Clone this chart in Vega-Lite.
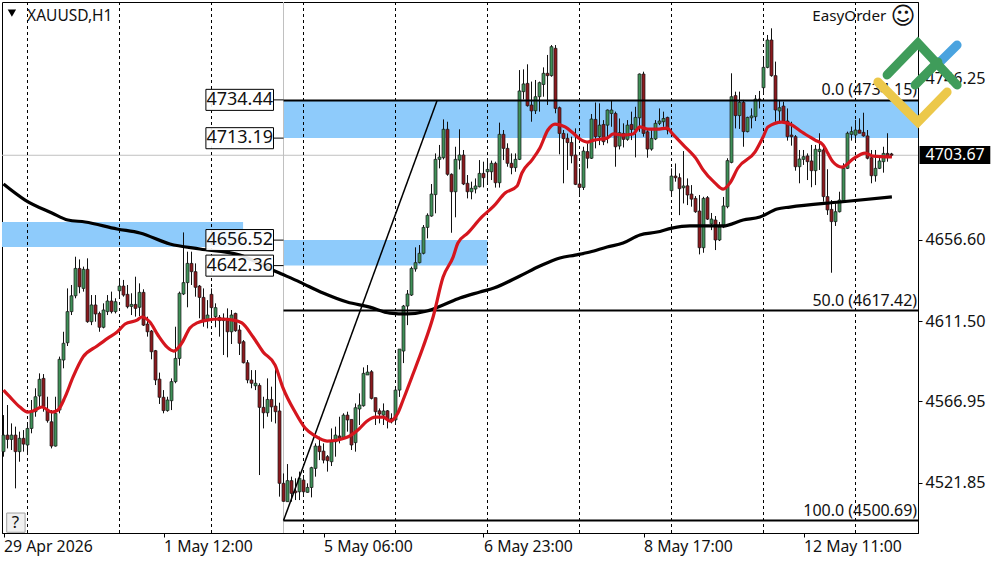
{"$schema":"https://vega.github.io/schema/vega-lite/v6.json","width":916,"height":531,"autosize":{"type":"none"},"padding":{"left":2,"top":2,"right":82,"bottom":29},"background":"white","view":{"stroke":"black","strokeWidth":1,"fill":"white"},
"datasets":{
"zones":[{"x":-0.375,"x2":59.9,"y":4666.6,"y2":4652.7},{"x":70,"x2":228.625,"y":4734.44,"y2":4713.19},{"x":70,"x2":121,"y":4656.52,"y2":4642.36}],
"grid":[{"x":6},{"x":29},{"x":52},{"x":75},{"x":98},{"x":121},{"x":144},{"x":167},{"x":190},{"x":213}],
"sep":[{"x":70}],
"bid":[{"x":-0.375,"x2":228.625,"y":4703.67}],
"fib":[{"x":70,"x2":228.625,"y":4734.15},{"x":70,"x2":228.625,"y":4617.42},{"x":70,"x2":228.625,"y":4500.69}],
"trend":[{"x":70,"y":4500.69},{"x":108.4,"y":4734.15}],
"candles":[
{"x":0,"o":4539.0,"h":4559.3,"l":4536.2,"c":4548.2},{"x":1,"o":4548.2,"h":4564.9,"l":4540.8,"c":4545.8},{"x":2,"o":4545.8,"h":4554.7,"l":4539.9,"c":4548.2},{"x":3,"o":4548.2,"h":4552.9,"l":4518.6,"c":4539.0},{"x":4,"o":4539.0,"h":4550.1,"l":4533.4,"c":4546.4},{"x":5,"o":4546.4,"h":4551.0,"l":4539.0,"c":4543.2},{"x":6,"o":4542.7,"h":4553.8,"l":4537.1,"c":4551.9},{"x":7,"o":4551.9,"h":4567.7,"l":4549.2,"c":4561.2},{"x":8,"o":4561.2,"h":4574.2,"l":4558.4,"c":4569.5},{"x":9,"o":4569.9,"h":4582.5,"l":4564.0,"c":4579.2},
{"x":10,"o":4579.7,"h":4582.1,"l":4561.2,"c":4564.0},{"x":11,"o":4562.1,"h":4569.5,"l":4555.1,"c":4556.2},{"x":12,"o":4555.6,"h":4562.1,"l":4540.8,"c":4542.1},{"x":13,"o":4542.1,"h":4569.5,"l":4541.8,"c":4560.3},{"x":14,"o":4562.1,"h":4591.8,"l":4560.3,"c":4590.3},{"x":15,"o":4589.9,"h":4605.6,"l":4585.3,"c":4599.2},{"x":16,"o":4599.5,"h":4629.7,"l":4597.7,"c":4616.8},{"x":17,"o":4616.8,"h":4631.6,"l":4614.9,"c":4625.6},{"x":18,"o":4625.6,"h":4647.3,"l":4624.2,"c":4640.8},{"x":19,"o":4640.8,"h":4645.8,"l":4627.0,"c":4630.6},
{"x":20,"o":4629.7,"h":4641.8,"l":4627.9,"c":4640.3},{"x":21,"o":4640.3,"h":4646.4,"l":4610.6,"c":4611.2},{"x":22,"o":4611.2,"h":4626.0,"l":4609.3,"c":4620.5},{"x":23,"o":4620.5,"h":4626.0,"l":4611.2,"c":4615.5},{"x":24,"o":4615.8,"h":4616.8,"l":4605.6,"c":4608.1},{"x":25,"o":4608.1,"h":4621.4,"l":4607.5,"c":4617.7},{"x":26,"o":4616.8,"h":4626.0,"l":4614.9,"c":4622.7},{"x":27,"o":4622.7,"h":4627.9,"l":4615.8,"c":4616.8},{"x":28,"o":4616.8,"h":4624.2,"l":4615.8,"c":4622.3},{"x":29,"o":4628.4,"h":4634.0,"l":4624.2,"c":4631.0},
{"x":30,"o":4631.0,"h":4634.4,"l":4625.1,"c":4626.0},{"x":31,"o":4626.4,"h":4631.6,"l":4618.6,"c":4619.5},{"x":32,"o":4619.7,"h":4627.0,"l":4614.9,"c":4620.8},{"x":33,"o":4620.8,"h":4636.2,"l":4614.0,"c":4618.6},{"x":34,"o":4619.2,"h":4632.5,"l":4614.3,"c":4627.5},{"x":35,"o":4627.5,"h":4629.2,"l":4608.8,"c":4609.3},{"x":36,"o":4609.9,"h":4614.0,"l":4602.9,"c":4605.6},{"x":37,"o":4606.0,"h":4606.6,"l":4590.3,"c":4594.5},{"x":38,"o":4595.1,"h":4595.5,"l":4576.0,"c":4578.8},{"x":39,"o":4579.3,"h":4582.9,"l":4565.5,"c":4569.2},
{"x":40,"o":4569.2,"h":4573.2,"l":4560.3,"c":4561.8},{"x":41,"o":4561.8,"h":4569.5,"l":4561.2,"c":4567.7},{"x":42,"o":4567.3,"h":4579.7,"l":4562.1,"c":4577.9},{"x":43,"o":4577.9,"h":4608.4,"l":4577.0,"c":4590.8},{"x":44,"o":4590.8,"h":4627.9,"l":4586.8,"c":4627.0},{"x":45,"o":4626.6,"h":4660.8,"l":4626.0,"c":4632.9},{"x":46,"o":4632.9,"h":4650.1,"l":4619.2,"c":4643.6},{"x":47,"o":4643.6,"h":4650.1,"l":4631.6,"c":4639.0},{"x":48,"o":4639.0,"h":4643.6,"l":4625.1,"c":4630.3},{"x":49,"o":4631.0,"h":4631.6,"l":4613.1,"c":4624.7},
{"x":50,"o":4624.7,"h":4629.7,"l":4608.4,"c":4611.8},{"x":51,"o":4611.8,"h":4623.2,"l":4607.5,"c":4614.9},{"x":52,"o":4626.4,"h":4629.7,"l":4611.2,"c":4619.0},{"x":53,"o":4614.0,"h":4621.4,"l":4608.1,"c":4619.0},{"x":54,"o":4613.6,"h":4614.9,"l":4602.9,"c":4611.8},{"x":55,"o":4611.8,"h":4615.8,"l":4592.7,"c":4613.1},{"x":56,"o":4613.1,"h":4618.6,"l":4591.4,"c":4605.6},{"x":57,"o":4605.6,"h":4617.7,"l":4598.8,"c":4614.9},{"x":58,"o":4615.8,"h":4616.2,"l":4605.6,"c":4606.2},{"x":59,"o":4606.6,"h":4609.3,"l":4592.7,"c":4599.2},
{"x":60,"o":4600.1,"h":4601.0,"l":4588.0,"c":4588.4},{"x":61,"o":4588.4,"h":4589.9,"l":4577.0,"c":4578.8},{"x":62,"o":4578.8,"h":4584.3,"l":4574.2,"c":4577.0},{"x":63,"o":4575.6,"h":4584.3,"l":4573.2,"c":4577.0},{"x":64,"o":4575.8,"h":4577.0,"l":4526.0,"c":4563.6},{"x":65,"o":4563.6,"h":4569.5,"l":4551.9,"c":4560.6},{"x":66,"o":4560.6,"h":4579.7,"l":4558.4,"c":4568.0},{"x":67,"o":4568.0,"h":4575.1,"l":4555.6,"c":4563.9},{"x":68,"o":4564.3,"h":4586.2,"l":4554.7,"c":4561.2},{"x":69,"o":4561.6,"h":4566.2,"l":4514.0,"c":4521.4},
{"x":70,"o":4521.4,"h":4526.9,"l":4511.2,"c":4511.4},{"x":71,"o":4511.2,"h":4532.1,"l":4511.2,"c":4522.9},{"x":72,"o":4522.9,"h":4525.1,"l":4511.2,"c":4515.8},{"x":73,"o":4517.1,"h":4524.2,"l":4512.1,"c":4516.2},{"x":74,"o":4516.7,"h":4527.9,"l":4512.1,"c":4524.2},{"x":75,"o":4523.2,"h":4526.0,"l":4514.0,"c":4516.7},{"x":76,"o":4516.4,"h":4521.4,"l":4516.2,"c":4519.1},{"x":77,"o":4519.1,"h":4530.6,"l":4513.6,"c":4530.1},{"x":78,"o":4529.7,"h":4543.6,"l":4525.1,"c":4542.1},{"x":79,"o":4542.1,"h":4547.3,"l":4534.3,"c":4539.0},
{"x":80,"o":4539.3,"h":4543.6,"l":4532.5,"c":4534.3},{"x":81,"o":4536.2,"h":4537.1,"l":4527.9,"c":4534.0},{"x":82,"o":4533.4,"h":4551.9,"l":4531.0,"c":4544.5},{"x":83,"o":4544.5,"h":4552.9,"l":4536.2,"c":4548.2},{"x":84,"o":4547.7,"h":4558.4,"l":4543.6,"c":4546.4},{"x":85,"o":4546.9,"h":4560.3,"l":4545.5,"c":4559.3},{"x":86,"o":4559.3,"h":4561.2,"l":4550.1,"c":4556.6},{"x":87,"o":4556.9,"h":4556.9,"l":4539.9,"c":4542.7},{"x":88,"o":4544.0,"h":4565.8,"l":4539.0,"c":4563.4},{"x":89,"o":4562.7,"h":4571.4,"l":4553.8,"c":4564.9},
{"x":90,"o":4564.5,"h":4585.8,"l":4564.0,"c":4582.5},{"x":91,"o":4581.6,"h":4587.1,"l":4581.6,"c":4583.2},{"x":92,"o":4583.4,"h":4584.3,"l":4568.0,"c":4568.6},{"x":93,"o":4569.0,"h":4569.0,"l":4553.8,"c":4561.2},{"x":94,"o":4561.7,"h":4563.0,"l":4554.7,"c":4559.9},{"x":95,"o":4559.3,"h":4565.8,"l":4553.8,"c":4561.6},{"x":96,"o":4561.7,"h":4562.1,"l":4551.9,"c":4556.9},{"x":97,"o":4557.5,"h":4560.3,"l":4554.7,"c":4555.6},{"x":98,"o":4556.6,"h":4574.2,"l":4553.8,"c":4573.2},{"x":99,"o":4573.2,"h":4596.0,"l":4569.4,"c":4596.0},
{"x":100,"o":4594.9,"h":4620.5,"l":4588.2,"c":4619.9},{"x":101,"o":4619.9,"h":4628.8,"l":4609.3,"c":4626.6},{"x":102,"o":4626.0,"h":4641.8,"l":4625.5,"c":4640.8},{"x":103,"o":4640.5,"h":4652.5,"l":4639.0,"c":4644.0},{"x":104,"o":4644.0,"h":4653.8,"l":4643.6,"c":4649.2},{"x":105,"o":4649.2,"h":4664.9,"l":4648.6,"c":4663.6},{"x":106,"o":4663.6,"h":4671.4,"l":4657.5,"c":4670.3},{"x":107,"o":4669.9,"h":4687.7,"l":4669.5,"c":4682.1},{"x":108,"o":4681.8,"h":4704.7,"l":4671.4,"c":4701.4},{"x":109,"o":4701.4,"h":4709.4,"l":4696.4,"c":4702.7},
{"x":110,"o":4702.3,"h":4723.6,"l":4701.4,"c":4718.1},{"x":111,"o":4718.1,"h":4722.3,"l":4692.3,"c":4693.1},{"x":112,"o":4693.1,"h":4693.6,"l":4660.6,"c":4683.4},{"x":113,"o":4683.4,"h":4708.4,"l":4669.2,"c":4701.4},{"x":114,"o":4701.0,"h":4718.1,"l":4695.8,"c":4703.8},{"x":115,"o":4703.8,"h":4706.6,"l":4687.1,"c":4687.7},{"x":116,"o":4688.1,"h":4692.7,"l":4679.7,"c":4683.4},{"x":117,"o":4683.4,"h":4689.0,"l":4679.2,"c":4685.3},{"x":118,"o":4684.9,"h":4690.8,"l":4682.5,"c":4686.6},{"x":119,"o":4686.2,"h":4701.0,"l":4685.8,"c":4693.6},
{"x":120,"o":4693.6,"h":4700.1,"l":4685.8,"c":4691.2},{"x":121,"o":4694.5,"h":4702.0,"l":4688.1,"c":4695.8},{"x":122,"o":4694.5,"h":4700.7,"l":4689.9,"c":4699.2},{"x":123,"o":4699.2,"h":4700.1,"l":4685.7,"c":4688.4},{"x":124,"o":4688.4,"h":4721.8,"l":4685.7,"c":4715.3},{"x":125,"o":4715.3,"h":4717.7,"l":4701.0,"c":4707.5},{"x":126,"o":4707.5,"h":4710.3,"l":4697.3,"c":4699.2},{"x":127,"o":4699.2,"h":4704.7,"l":4693.1,"c":4696.8},{"x":128,"o":4696.8,"h":4704.7,"l":4694.5,"c":4701.4},{"x":129,"o":4701.4,"h":4751.0,"l":4701.0,"c":4739.4},
{"x":130,"o":4739.0,"h":4751.4,"l":4734.7,"c":4743.3},{"x":131,"o":4743.6,"h":4754.2,"l":4730.7,"c":4731.2},{"x":132,"o":4731.6,"h":4744.6,"l":4722.3,"c":4728.3},{"x":133,"o":4728.4,"h":4745.5,"l":4726.6,"c":4736.2},{"x":134,"o":4736.2,"h":4744.6,"l":4727.9,"c":4744.0},{"x":135,"o":4743.0,"h":4752.5,"l":4736.2,"c":4749.2},{"x":136,"o":4749.2,"h":4759.4,"l":4731.6,"c":4747.9},{"x":137,"o":4747.9,"h":4764.9,"l":4747.3,"c":4764.0},{"x":138,"o":4763.1,"h":4764.9,"l":4727.0,"c":4729.7},{"x":139,"o":4730.1,"h":4730.7,"l":4704.2,"c":4715.8},
{"x":140,"o":4715.8,"h":4717.7,"l":4688.1,"c":4712.9},{"x":141,"o":4713.1,"h":4715.8,"l":4695.5,"c":4710.7},{"x":142,"o":4710.8,"h":4714.0,"l":4699.2,"c":4703.4},{"x":143,"o":4703.8,"h":4718.6,"l":4687.1,"c":4687.5},{"x":144,"o":4687.7,"h":4696.4,"l":4681.0,"c":4685.8},{"x":145,"o":4685.8,"h":4708.4,"l":4684.4,"c":4706.0},{"x":146,"o":4705.7,"h":4710.3,"l":4696.4,"c":4702.0},{"x":147,"o":4702.0,"h":4726.6,"l":4701.6,"c":4723.8},{"x":148,"o":4723.6,"h":4733.0,"l":4707.5,"c":4714.0},{"x":149,"o":4714.0,"h":4732.5,"l":4709.3,"c":4720.4},
{"x":150,"o":4720.8,"h":4723.2,"l":4709.3,"c":4711.2},{"x":151,"o":4720.4,"h":4729.1,"l":4710.3,"c":4728.8},{"x":152,"o":4726.9,"h":4734.3,"l":4719.5,"c":4728.8},{"x":153,"o":4726.9,"h":4727.9,"l":4697.3,"c":4708.4},{"x":154,"o":4708.8,"h":4724.1,"l":4706.9,"c":4716.2},{"x":155,"o":4715.8,"h":4721.4,"l":4708.0,"c":4712.5},{"x":156,"o":4712.5,"h":4723.2,"l":4711.7,"c":4720.4},{"x":157,"o":4720.8,"h":4727.9,"l":4712.1,"c":4718.0},{"x":158,"o":4717.7,"h":4730.6,"l":4702.5,"c":4724.7},{"x":159,"o":4724.5,"h":4749.1,"l":4716.7,"c":4748.8},
{"x":160,"o":4748.8,"h":4750.1,"l":4714.0,"c":4715.8},{"x":161,"o":4716.7,"h":4718.0,"l":4702.3,"c":4707.1},{"x":162,"o":4707.1,"h":4718.6,"l":4706.2,"c":4713.0},{"x":163,"o":4712.7,"h":4723.2,"l":4712.1,"c":4721.4},{"x":164,"o":4721.4,"h":4729.7,"l":4720.4,"c":4722.7},{"x":165,"o":4722.3,"h":4727.9,"l":4719.5,"c":4724.1},{"x":166,"o":4724.7,"h":4725.1,"l":4715.3,"c":4717.7},{"x":167,"o":4684.0,"h":4696.4,"l":4680.6,"c":4692.1},{"x":168,"o":4692.1,"h":4699.1,"l":4689.0,"c":4691.2},{"x":169,"o":4691.2,"h":4693.6,"l":4670.4,"c":4685.1},
{"x":170,"o":4685.6,"h":4706.0,"l":4676.9,"c":4686.6},{"x":171,"o":4686.7,"h":4690.8,"l":4676.0,"c":4681.6},{"x":172,"o":4682.1,"h":4687.1,"l":4675.1,"c":4679.3},{"x":173,"o":4679.7,"h":4681.0,"l":4671.7,"c":4672.3},{"x":174,"o":4672.7,"h":4681.6,"l":4648.6,"c":4652.3},{"x":175,"o":4652.3,"h":4680.6,"l":4649.5,"c":4679.7},{"x":176,"o":4680.1,"h":4681.0,"l":4667.7,"c":4668.2},{"x":177,"o":4665.5,"h":4671.6,"l":4662.1,"c":4668.2},{"x":178,"o":4667.7,"h":4669.9,"l":4651.0,"c":4656.6},{"x":179,"o":4656.6,"h":4666.6,"l":4656.0,"c":4663.8},
{"x":180,"o":4663.8,"h":4680.5,"l":4663.2,"c":4675.5},{"x":181,"o":4675.1,"h":4702.0,"l":4674.2,"c":4700.7},{"x":182,"o":4699.7,"h":4749.2,"l":4699.2,"c":4736.2},{"x":183,"o":4736.8,"h":4739.0,"l":4718.6,"c":4725.7},{"x":184,"o":4725.7,"h":4739.0,"l":4718.3,"c":4733.1},{"x":185,"o":4733.1,"h":4734.4,"l":4708.4,"c":4716.8},{"x":186,"o":4716.8,"h":4725.1,"l":4716.4,"c":4724.7},{"x":187,"o":4724.5,"h":4729.7,"l":4718.6,"c":4725.5},{"x":188,"o":4725.1,"h":4737.1,"l":4722.7,"c":4734.9},{"x":189,"o":4734.9,"h":4739.4,"l":4729.7,"c":4734.4},
{"x":190,"o":4741.2,"h":4757.5,"l":4737.5,"c":4752.5},{"x":191,"o":4752.5,"h":4770.5,"l":4752.0,"c":4767.7},{"x":192,"o":4767.7,"h":4774.2,"l":4747.3,"c":4747.9},{"x":193,"o":4747.9,"h":4755.7,"l":4722.3,"c":4728.8},{"x":194,"o":4728.3,"h":4734.4,"l":4722.3,"c":4730.1},{"x":195,"o":4731.0,"h":4733.4,"l":4721.4,"c":4722.7},{"x":196,"o":4722.7,"h":4729.7,"l":4711.8,"c":4714.0},{"x":197,"o":4714.9,"h":4722.3,"l":4709.0,"c":4714.0},{"x":198,"o":4714.0,"h":4714.9,"l":4695.1,"c":4697.3},{"x":199,"o":4697.3,"h":4706.6,"l":4688.1,"c":4701.6},
{"x":200,"o":4701.4,"h":4706.6,"l":4698.3,"c":4702.9},{"x":201,"o":4703.3,"h":4704.7,"l":4689.9,"c":4700.1},{"x":202,"o":4700.5,"h":4709.4,"l":4685.9,"c":4695.1},{"x":203,"o":4695.1,"h":4709.4,"l":4687.1,"c":4707.0},{"x":204,"o":4705.7,"h":4715.9,"l":4695.5,"c":4707.0},{"x":205,"o":4706.6,"h":4708.4,"l":4677.9,"c":4680.7},{"x":206,"o":4680.7,"h":4695.9,"l":4670.5,"c":4673.3},{"x":207,"o":4673.6,"h":4678.8,"l":4638.4,"c":4666.8},{"x":208,"o":4666.8,"h":4676.9,"l":4664.4,"c":4672.3},{"x":209,"o":4672.3,"h":4683.4,"l":4671.9,"c":4678.8},
{"x":210,"o":4678.4,"h":4699.2,"l":4677.9,"c":4696.4},{"x":211,"o":4696.4,"h":4716.8,"l":4696.0,"c":4715.9},{"x":212,"o":4715.3,"h":4719.6,"l":4711.8,"c":4716.8},{"x":213,"o":4714.9,"h":4723.3,"l":4712.2,"c":4717.7},{"x":214,"o":4717.7,"h":4724.2,"l":4715.9,"c":4715.9},{"x":215,"o":4716.4,"h":4727.3,"l":4714.0,"c":4714.4},{"x":216,"o":4714.4,"h":4717.7,"l":4701.4,"c":4702.0},{"x":217,"o":4702.3,"h":4706.6,"l":4688.1,"c":4692.3},{"x":218,"o":4692.3,"h":4706.6,"l":4689.0,"c":4696.4},{"x":219,"o":4696.4,"h":4702.9,"l":4696.0,"c":4700.5},
{"x":220,"o":4700.1,"h":4708.4,"l":4694.0,"c":4704.7},{"x":221,"o":4704.7,"h":4715.9,"l":4700.1,"c":4702.5},{"x":222,"o":4704.4,"h":4705.0,"l":4702.5,"c":4703.67}],
"red":[{"x":0,"y":4573.2},{"x":1.6,"y":4569.4},{"x":4.1,"y":4563.8},{"x":6.1,"y":4561.0},{"x":7.4,"y":4561.6},{"x":9.6,"y":4563.8},{"x":12.1,"y":4561.0},{"x":13.6,"y":4562.1},{"x":15.4,"y":4569.4},{"x":17.4,"y":4580.5},{"x":19.9,"y":4591.6},{"x":23.4,"y":4597.7},{"x":26.1,"y":4602.1},{"x":28.4,"y":4605.5},{"x":30.4,"y":4609.9},{"x":33.4,"y":4612.1},{"x":34.6,"y":4613.8},{"x":36.6,"y":4611.0},{"x":38.6,"y":4603.8},{"x":40.9,"y":4597.1},{"x":42.6,"y":4594.9},{"x":44.6,"y":4599.4},{"x":46.6,"y":4607.7},{"x":48.4,"y":4610.5},{"x":50.9,"y":4612.1},{"x":54.1,"y":4612.7},{"x":57.4,"y":4612.1},{"x":59.6,"y":4610.5},{"x":62.4,"y":4602.7},{"x":64.9,"y":4594.4},{"x":67.9,"y":4587.1},{"x":69.9,"y":4574.3},{"x":72.9,"y":4561.0},{"x":75.4,"y":4552.1},{"x":77.9,"y":4547.7},{"x":80.9,"y":4544.9},{"x":83.6,"y":4545.5},{"x":86.6,"y":4547.7},{"x":88.6,"y":4551.0},{"x":90.9,"y":4556.0},{"x":92.9,"y":4558.2},{"x":94.9,"y":4558.2},{"x":96.6,"y":4556.0},{"x":98.6,"y":4560.5},{"x":99.9,"y":4567.7},{"x":102.1,"y":4580.5},{"x":104.9,"y":4597.1},{"x":107.4,"y":4613.8},{"x":109.9,"y":4636.0},{"x":112.4,"y":4647.1},{"x":113.6,"y":4654.9},{"x":116.1,"y":4660.5},{"x":119.6,"y":4669.4},{"x":122.6,"y":4675.5},{"x":125.4,"y":4682.7},{"x":128.4,"y":4686.6},{"x":129.6,"y":4693.8},{"x":132.1,"y":4701.0},{"x":134.1,"y":4707.7},{"x":136.1,"y":4717.7},{"x":137.9,"y":4721.0},{"x":140.4,"y":4719.4},{"x":142.4,"y":4716.0},{"x":144.1,"y":4712.7},{"x":145.9,"y":4711.0},{"x":147.6,"y":4712.1},{"x":150.9,"y":4713.2},{"x":152.4,"y":4715.5},{"x":154.9,"y":4714.9},{"x":157.4,"y":4715.5},{"x":159.1,"y":4719.4},{"x":161.1,"y":4718.2},{"x":163.4,"y":4718.2},{"x":165.9,"y":4718.8},{"x":167.1,"y":4716.0},{"x":169.9,"y":4709.4},{"x":173.4,"y":4701.0},{"x":174.9,"y":4695.5},{"x":177.9,"y":4688.2},{"x":179.9,"y":4684.9},{"x":181.6,"y":4688.2},{"x":183.6,"y":4696.6},{"x":187.9,"y":4705.5},{"x":189.9,"y":4713.8},{"x":191.1,"y":4719.4},{"x":194.6,"y":4722.1},{"x":197.1,"y":4720.5},{"x":199.6,"y":4716.6},{"x":202.9,"y":4712.1},{"x":204.9,"y":4709.4},{"x":205.9,"y":4705.5},{"x":207.4,"y":4699.9},{"x":209.6,"y":4697.1},{"x":212.4,"y":4701.6},{"x":215.4,"y":4704.9},{"x":217.4,"y":4703.2},{"x":222.1,"y":4702.7}],
"black":[{"x":0,"y":4687.7},{"x":5.4,"y":4678.8},{"x":12.1,"y":4671.6},{"x":16.1,"y":4667.7},{"x":20.4,"y":4666.6},{"x":28.4,"y":4662.7},{"x":34.1,"y":4660.5},{"x":41.6,"y":4654.4},{"x":49.1,"y":4651.6},{"x":59.1,"y":4648.2},{"x":68.4,"y":4638.8},{"x":74.1,"y":4633.2},{"x":79.9,"y":4627.1},{"x":85.9,"y":4622.1},{"x":91.6,"y":4619.3},{"x":96.6,"y":4616.0},{"x":100.9,"y":4615.5},{"x":105.9,"y":4617.1},{"x":109.9,"y":4620.5},{"x":114.1,"y":4624.4},{"x":119.1,"y":4627.7},{"x":122.6,"y":4629.9},{"x":129.1,"y":4636.6},{"x":134.1,"y":4642.1},{"x":139.1,"y":4646.6},{"x":142.9,"y":4648.2},{"x":146.6,"y":4649.9},{"x":150.9,"y":4652.7},{"x":154.9,"y":4654.9},{"x":159.1,"y":4659.4},{"x":163.4,"y":4661.0},{"x":167.1,"y":4663.2},{"x":171.6,"y":4664.4},{"x":179.9,"y":4664.4},{"x":184.9,"y":4667.7},{"x":189.1,"y":4669.4},{"x":193.4,"y":4673.8},{"x":196.6,"y":4674.9},{"x":209.1,"y":4677.7},{"x":222.1,"y":4680.5}],
"boxes":[{"x":50.6,"x2":67.5,"xm":59.05,"xe":70,"p":4734.44,"y":4740.3,"y2":4728.6,"t":"4734.44"},{"x":50.6,"x2":67.5,"xm":59.05,"xe":70,"p":4713.19,"y":4719.0,"y2":4707.3,"t":"4713.19"},{"x":50.6,"x2":67.5,"xm":59.05,"xe":70,"p":4656.52,"y":4662.4,"y2":4650.7,"t":"4656.52"},{"x":50.6,"x2":67.5,"xm":59.05,"xe":70,"p":4642.36,"y":4648.2,"y2":4636.5,"t":"4642.36"}],
"fibtext":[{"x":228.4,"y":4739.9,"t":"0.0 (4734.15)"},{"x":228.4,"y":4622.7,"t":"50.0 (4617.42)"},{"x":228.4,"y":4506.0,"t":"100.0 (4500.69)"}],
"logo":[{"s":"b","x":233.6,"y":4754.4},{"s":"b","x":238.4,"y":4764.9},{"s":"g1","x":227.9,"y":4742.7},{"s":"g1","x":233.6,"y":4755.5},{"s":"g2","x":220.9,"y":4748.3},{"s":"g2","x":228.6,"y":4766.0},{"s":"g2","x":238.4,"y":4742.7},{"s":"y","x":218.6,"y":4744.4},{"s":"y","x":228.6,"y":4722.1},{"s":"y","x":235.9,"y":4738.8}]
},
"encoding":{"x":{"field":"x","type":"quantitative","title":null,"scale":{"domain":[-0.375,228.625],"nice":false,"zero":false,"padding":0},"axis":{"values":[0,40,80,120,160,200],"labelExpr":"datum.value==0?'29 Apr 2026':datum.value==40?'1 May 12:00':datum.value==80?'5 May 06:00':datum.value==120?'6 May 23:00':datum.value==160?'8 May 17:00':'12 May 11:00'","grid":false,"labelAlign":"left","labelFont":"Noto Sans","labelFontSize":15.8,"labelColor":"#111","tickColor":"black","tickSize":4,"domainColor":"black","labelPadding":2,"labelOverlap":false,"labelFlush":false,"labelBound":false}}},
"layer":[
{"data":{"name":"zones"},"mark":{"type":"rect","color":"#8ecbfb"},"encoding":{"x2":{"field":"x2"},"y":{"field":"y","type":"quantitative","title":null,"scale":{"domain":[4493.8,4788.82],"nice":false,"zero":false,"padding":0},"axis":{"orient":"right","values":[4746.25,4656.6,4611.5,4566.95,4521.85],"format":".2f","grid":false,"labelFont":"Noto Sans","labelFontSize":16.2,"labelColor":"#111","tickColor":"black","tickSize":4,"domainColor":"black","labelPadding":3,"labelOverlap":false,"labelBound":false}},"y2":{"field":"y2"}}},
{"data":{"name":"sep"},"mark":{"type":"rule","color":"#c0c0c0","strokeWidth":1},"encoding":{}},
{"data":{"name":"bid"},"mark":{"type":"rule","color":"#c0c0c0","strokeWidth":1},"encoding":{"x2":{"field":"x2"},"y":{"field":"y","type":"quantitative"}}},
{"data":{"name":"grid"},"mark":{"type":"rule","color":"black","strokeWidth":1,"strokeDash":[3,3]},"encoding":{}},
{"data":{"name":"candles"},"mark":{"type":"rule","color":"#111","strokeWidth":1},"encoding":{"y":{"field":"l","type":"quantitative"},"y2":{"field":"h"}}},
{"data":{"name":"candles"},"mark":{"type":"bar","orient":"vertical","width":3,"stroke":"#1a1a1a","strokeWidth":0.7},"encoding":{"y":{"field":"o","type":"quantitative"},"y2":{"field":"c"},"color":{"condition":{"test":"datum.c>=datum.o","value":"#3f9058"},"value":"#8b1a1e"}}},
{"data":{"name":"fib"},"mark":{"type":"rule","color":"black","strokeWidth":2},"encoding":{"x2":{"field":"x2"},"y":{"field":"y","type":"quantitative"}}},
{"data":{"name":"trend"},"mark":{"type":"line","color":"black","strokeWidth":1.5},"encoding":{"y":{"field":"y","type":"quantitative"}}},
{"data":{"name":"black"},"mark":{"type":"line","color":"black","strokeWidth":3.2,"interpolate":"monotone"},"encoding":{"y":{"field":"y","type":"quantitative"}}},
{"data":{"name":"red"},"mark":{"type":"line","color":"#d5161e","strokeWidth":3.2,"interpolate":"monotone"},"encoding":{"y":{"field":"y","type":"quantitative"}}},
{"data":{"name":"boxes"},"mark":{"type":"rule","color":"black","strokeWidth":1},"encoding":{"x":{"field":"x2","type":"quantitative"},"x2":{"field":"xe"},"y":{"field":"p","type":"quantitative"}}},
{"data":{"name":"boxes"},"mark":{"type":"rect","fill":"white","fillOpacity":0.9,"stroke":"black","strokeWidth":1},"encoding":{"x2":{"field":"x2"},"y":{"field":"y","type":"quantitative"},"y2":{"field":"y2"}}},
{"data":{"name":"boxes"},"mark":{"type":"text","font":"Noto Sans","fontSize":18,"color":"#111","align":"center","baseline":"middle"},"encoding":{"x":{"field":"xm","type":"quantitative"},"y":{"field":"p","type":"quantitative"},"text":{"field":"t"}}},
{"data":{"name":"fibtext"},"mark":{"type":"text","font":"Noto Sans","fontSize":16,"color":"#111","align":"right","baseline":"middle"},"encoding":{"y":{"field":"y","type":"quantitative"},"text":{"field":"t"}}},
{"data":{"values":[{"x":5.9,"y":4780.8,"t":"XAUUSD,H1"}]},"mark":{"type":"text","font":"Noto Sans","fontSize":15.5,"color":"#111","align":"left","baseline":"middle"},"encoding":{"y":{"field":"y","type":"quantitative"},"text":{"field":"t"}}},
{"data":{"values":[{"x":2.1,"y":4782.6}]},"mark":{"type":"point","shape":"triangle-down","size":70,"filled":true,"color":"black","opacity":1},"encoding":{"y":{"field":"y","type":"quantitative"}}},
{"data":{"values":[{"x":220.7,"y":4780.8,"t":"EasyOrder"}]},"mark":{"type":"text","font":"Noto Sans","fontSize":15.2,"color":"#111","align":"right","baseline":"middle"},"encoding":{"y":{"field":"y","type":"quantitative"},"text":{"field":"t"}}},
{"data":{"values":[{"x":224.9,"y":4780.4,"t":"☺"}]},"mark":{"type":"text","font":"DejaVu Sans","fontSize":24,"color":"#111","align":"center","baseline":"middle"},"encoding":{"y":{"field":"y","type":"quantitative"},"text":{"field":"t"}}},
{"data":{"values":[{"x":0.8,"x2":5.4,"y":4504.9,"y2":4494.2}]},"mark":{"type":"rect","fill":"#f0f0f0","stroke":"#a0a0a0","strokeWidth":1},"encoding":{"x2":{"field":"x2"},"y":{"field":"y","type":"quantitative"},"y2":{"field":"y2"}}},
{"data":{"values":[{"x":3.0,"y":4499.3,"t":"?"}]},"mark":{"type":"text","font":"Noto Sans","fontSize":17,"color":"#111","align":"center","baseline":"middle"},"encoding":{"y":{"field":"y","type":"quantitative"},"text":{"field":"t"}}},
{"data":{"values":[{"x":229,"x2":246.7,"y":4708.8,"y2":4698.8}]},"mark":{"type":"rect","fill":"black"},"encoding":{"x2":{"field":"x2"},"y":{"field":"y","type":"quantitative"},"y2":{"field":"y2"}}},
{"data":{"values":[{"x":237.9,"y":4703.67,"t":"4703.67"}]},"mark":{"type":"text","font":"Noto Sans","fontSize":16,"color":"white","align":"center","baseline":"middle"},"encoding":{"y":{"field":"y","type":"quantitative"},"text":{"field":"t"}}},
{"data":{"name":"logo"},"mark":{"type":"line","strokeWidth":9,"strokeCap":"round","strokeJoin":"miter"},"encoding":{"y":{"field":"y","type":"quantitative"},"detail":{"field":"s"},"color":{"field":"s","type":"nominal","legend":null,"scale":{"domain":["b","g1","g2","y"],"range":["#4aa3df","#3f9c5a","#3f9c5a","#ecc84a"]}}}}
]}
